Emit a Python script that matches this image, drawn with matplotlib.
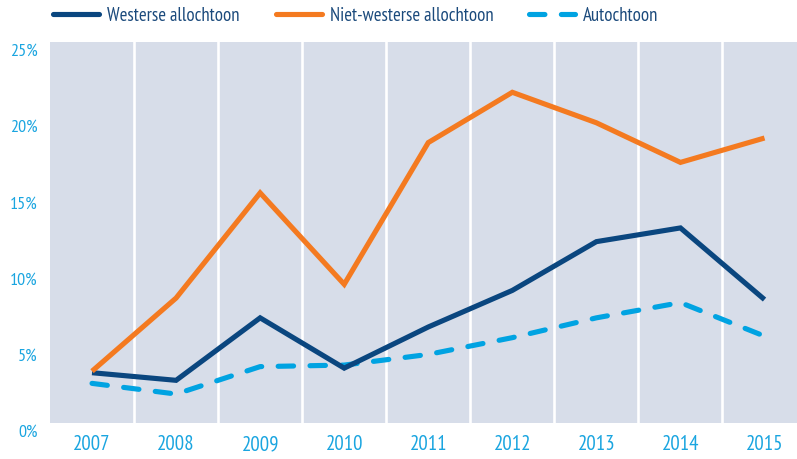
import matplotlib
matplotlib.use("Agg")
import matplotlib.pyplot as plt
import matplotlib.transforms as mtransforms
from matplotlib.lines import Line2D

plt.rcParams['font.family'] = ['PT Sans Narrow', 'Roboto Condensed', 'Fira Sans Condensed',
                               'Open Sans Condensed', 'Archivo Narrow', 'Liberation Sans Narrow',
                               'DejaVu Sans']

years = ['2007', '2008', '2009', '2010', '2011', '2012', '2013', '2014', '2015']
westerse = [3.3, 2.8, 6.9, 3.6, 6.3, 8.7, 11.9, 12.8, 8.1]
niet_westerse = [3.4, 8.2, 15.1, 9.1, 18.4, 21.7, 19.7, 17.1, 18.7]
autochtoon = [2.6, 1.9, 3.7, 3.8, 4.5, 5.6, 6.9, 7.9, 5.7]
y_ticks = [0, 5, 10, 15, 20, 25]
series_names = ['Westerse allochtoon', 'Niet-westerse allochtoon', 'Autochtoon']

NAVY = '#0a467f'
ORANGE = '#f47a20'
CYAN = '#00a3e2'
LABEL = '#1aa5e0'
TEXT = '#1b4a7c'
BG = '#d7dde9'

W, H = 797, 459
fig = plt.figure(figsize=(W / 100, H / 100), dpi=100)
left, right, top, bottom = 50, 50 + 9 * 84.06, 42, 423
ax = fig.add_axes([left / W, (H - bottom) / H, (right - left) / W, (bottom - top) / H])
ax.set_facecolor(BG)
for s in ax.spines.values():
    s.set_visible(False)

x = list(range(len(years)))
for i in range(1, len(years)):
    ax.axvline(i - 0.5, color='white', lw=1.9, zorder=1)

lw = 3.7
ax.plot(x, westerse, color=NAVY, lw=lw, solid_joinstyle='miter', solid_capstyle='butt', zorder=3,
        label=series_names[0])
ax.plot(x, niet_westerse, color=ORANGE, lw=lw, solid_joinstyle='miter', solid_capstyle='butt', zorder=3,
        label=series_names[1])
ax.plot(x, autochtoon, color=CYAN, lw=lw, dashes=(3.0, 3.2), dash_capstyle='round', zorder=2,
        label=series_names[2])

ax.set_xlim(-0.5, 8.5)
ax.set_ylim(0, 25)
ax.set_xticks(x)
ax.set_xticklabels(years)
ax.set_yticks(y_ticks)
ax.set_yticklabels([f'{v}%' for v in y_ticks])
ax.tick_params(axis='both', length=0)
ax.tick_params(axis='y', pad=9, labelsize=13, labelcolor=LABEL)
ax.tick_params(axis='x', pad=9, labelsize=15, labelcolor=LABEL)

# y labels sit a little below their tick positions
offset = mtransforms.ScaledTranslation(0, -8 / 100, fig.dpi_scale_trans)
for lab in ax.get_yticklabels():
    lab.set_transform(lab.get_transform() + offset)

handles = [
    Line2D([], [], color=NAVY, lw=lw, solid_capstyle='round'),
    Line2D([], [], color=ORANGE, lw=lw, solid_capstyle='round'),
    Line2D([], [], color=CYAN, lw=lw, dashes=(3.0, 3.2), dash_capstyle='round'),
]
fs = 13.5
px = fs / 72 * 100
leg = fig.legend(handles, series_names, loc='center left',
                 bbox_to_anchor=(53 / W, 1 - 16 / H), ncol=3, frameon=False,
                 fontsize=fs, handlelength=46 / px, handletextpad=8 / px,
                 columnspacing=36 / px, borderpad=0, borderaxespad=0)
for t in leg.get_texts():
    t.set_color(TEXT)

fig.savefig('out.png', dpi=100)
